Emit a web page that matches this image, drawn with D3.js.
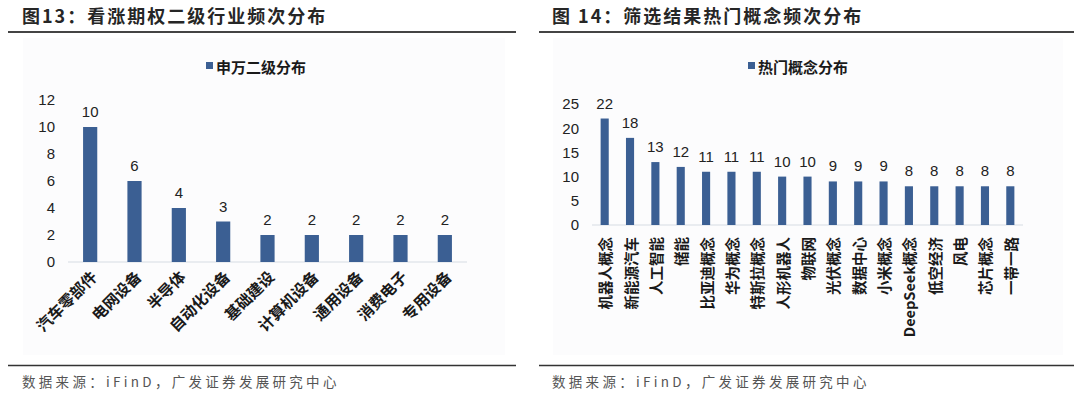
<!DOCTYPE html>
<html lang="zh">
<head>
<meta charset="UTF-8">
<title>频次分布</title>
<script src="https://cdn.jsdelivr.net/npm/d3@7"></script>
<style>
  body { margin: 0; background: #fff; }
  svg { display: block; }
  .cjk { font-family: "Noto Sans CJK SC", sans-serif; }
  .num { font-family: "Liberation Sans", Arial, sans-serif; }
</style>
</head>
<body>
<svg width="1080" height="397"></svg>
<script>
// 图13 数据
var industryNames = ["汽车零部件", "电网设备", "半导体", "自动化设备", "基础建设", "计算机设备", "通用设备", "消费电子", "专用设备"];
var industryCounts = [10, 6, 4, 3, 2, 2, 2, 2, 2];
var industryTicks = [0, 2, 4, 6, 8, 10, 12];

// 图14 数据
var conceptNames = ["机器人概念", "新能源汽车", "人工智能", "储能", "比亚迪概念", "华为概念", "特斯拉概念", "人形机器人", "物联网",
  "光伏概念", "数据中心", "小米概念", "DeepSeek概念", "低空经济", "风电", "芯片概念", "一带一路"];
var conceptCounts = [22, 18, 13, 12, 11, 11, 11, 10, 10, 9, 9, 9, 8, 8, 8, 8, 8];
var conceptTicks = [0, 5, 10, 15, 20, 25];

var barColor = "#3b5f93";
var svg = d3.select("svg");

function panel(opt) {
  var g = svg.append("g");

  // 图表底框
  g.append("rect")
    .attr("x", opt.box[0]).attr("y", opt.box[1])
    .attr("width", opt.box[2]).attr("height", opt.box[3])
    .attr("fill", "#fcfcfd");

  // 标题与分隔线
  g.append("text")
    .attr("class", "cjk")
    .attr("x", opt.titleX).attr("y", 23)
    .attr("font-size", 18).attr("font-weight", 700)
    .attr("letter-spacing", 2)
    .attr("fill", "#262626")
    .text(opt.title);

  g.append("line")
    .attr("x1", opt.line[0]).attr("x2", opt.line[1])
    .attr("y1", 32).attr("y2", 32)
    .attr("stroke", "#444").attr("stroke-width", 2);

  g.append("line")
    .attr("x1", opt.line[0]).attr("x2", opt.line[1])
    .attr("y1", 365.5).attr("y2", 365.5)
    .attr("stroke", "#333").attr("stroke-width", 1.5);

  g.append("text")
    .attr("class", "cjk")
    .attr("x", opt.titleX).attr("y", 387)
    .attr("font-size", 13.5).attr("letter-spacing", 3.3)
    .attr("fill", "#555")
    .text("数据来源：iFinD，广发证券发展研究中心");

  var x = d3.scaleBand()
    .domain(opt.names)
    .range(opt.xRange)
    .paddingInner(0.68)
    .paddingOuter(0.34);

  var y = d3.scaleLinear()
    .domain([0, d3.max(opt.ticks)])
    .range(opt.yRange);

  // 纵轴
  var yAxis = g.append("g")
    .attr("transform", "translate(" + opt.xRange[0] + ",0)")
    .call(d3.axisLeft(y).tickValues(opt.ticks).tickSize(0).tickPadding(opt.yPad));
  yAxis.select(".domain").remove();
  yAxis.selectAll("text")
    .attr("class", "num")
    .attr("font-size", 15)
    .attr("fill", "#222");

  // 横轴基线
  g.append("line")
    .attr("x1", opt.xRange[0]).attr("x2", opt.xRange[1])
    .attr("y1", y(0)).attr("y2", y(0))
    .attr("stroke", "#d6dbe3").attr("stroke-width", 1.2);

  var data = opt.names.map(function (n, i) { return { name: n, value: opt.values[i] }; });

  g.selectAll(".bar")
    .data(data)
    .enter()
    .append("rect")
    .attr("class", "bar")
    .attr("x", function (d) { return x(d.name); })
    .attr("y", function (d) { return y(d.value); })
    .attr("width", x.bandwidth())
    .attr("height", function (d) { return y(0) - y(d.value); })
    .attr("fill", barColor);

  g.selectAll(".val")
    .data(data)
    .enter()
    .append("text")
    .attr("class", "num")
    .attr("x", function (d) { return x(d.name) + x.bandwidth() / 2; })
    .attr("y", function (d) { return y(d.value) - 10; })
    .attr("text-anchor", "middle")
    .attr("font-size", 15)
    .attr("fill", "#222")
    .text(function (d) { return d.value; });

  // 分类标签
  g.selectAll(".cat")
    .data(data)
    .enter()
    .append("text")
    .attr("class", "cjk")
    .attr("transform", function (d) {
      var cx = x(d.name) + x.bandwidth() / 2 + opt.labelDx;
      return "translate(" + cx + "," + (y(0) + opt.labelDy) + ") rotate(" + opt.rotate + ")";
    })
    .attr("text-anchor", "end")
    .attr("dominant-baseline", "central")
    .attr("font-size", opt.labelSize)
    .attr("font-weight", 700)
    .attr("fill", "#1a1a1a")
    .text(function (d) { return d.name; });

  // 图例
  g.append("rect")
    .attr("x", opt.legendX).attr("y", 62)
    .attr("width", 7).attr("height", 7)
    .attr("fill", barColor);
  g.append("text")
    .attr("class", "cjk")
    .attr("x", opt.legendX + 10).attr("y", 66)
    .attr("dominant-baseline", "central")
    .attr("font-size", 15).attr("font-weight", 700)
    .attr("fill", "#1a1a1a")
    .text(opt.legend);
}

panel({
  title: "图13：看涨期权二级行业频次分布",
  titleX: 22,
  line: [8, 516],
  box: [23, 38, 482, 317],
  names: industryNames,
  values: industryCounts,
  ticks: industryTicks,
  xRange: [68, 467],
  yRange: [262, 100],
  yPad: 13,
  rotate: -45,
  labelDx: 3,
  labelDy: 11,
  labelSize: 15.5,
  legendX: 206,
  legend: "申万二级分布"
});

panel({
  title: "图 14：筛选结果热门概念频次分布",
  titleX: 552,
  line: [539, 1074],
  box: [553, 38, 510, 317],
  names: conceptNames,
  values: conceptCounts,
  ticks: conceptTicks,
  xRange: [592, 1023],
  yRange: [225, 104],
  yPad: 13,
  rotate: -90,
  labelDx: 0,
  labelDy: 12,
  labelSize: 14.5,
  legendX: 748,
  legend: "热门概念分布"
});
</script>
</body>
</html>
